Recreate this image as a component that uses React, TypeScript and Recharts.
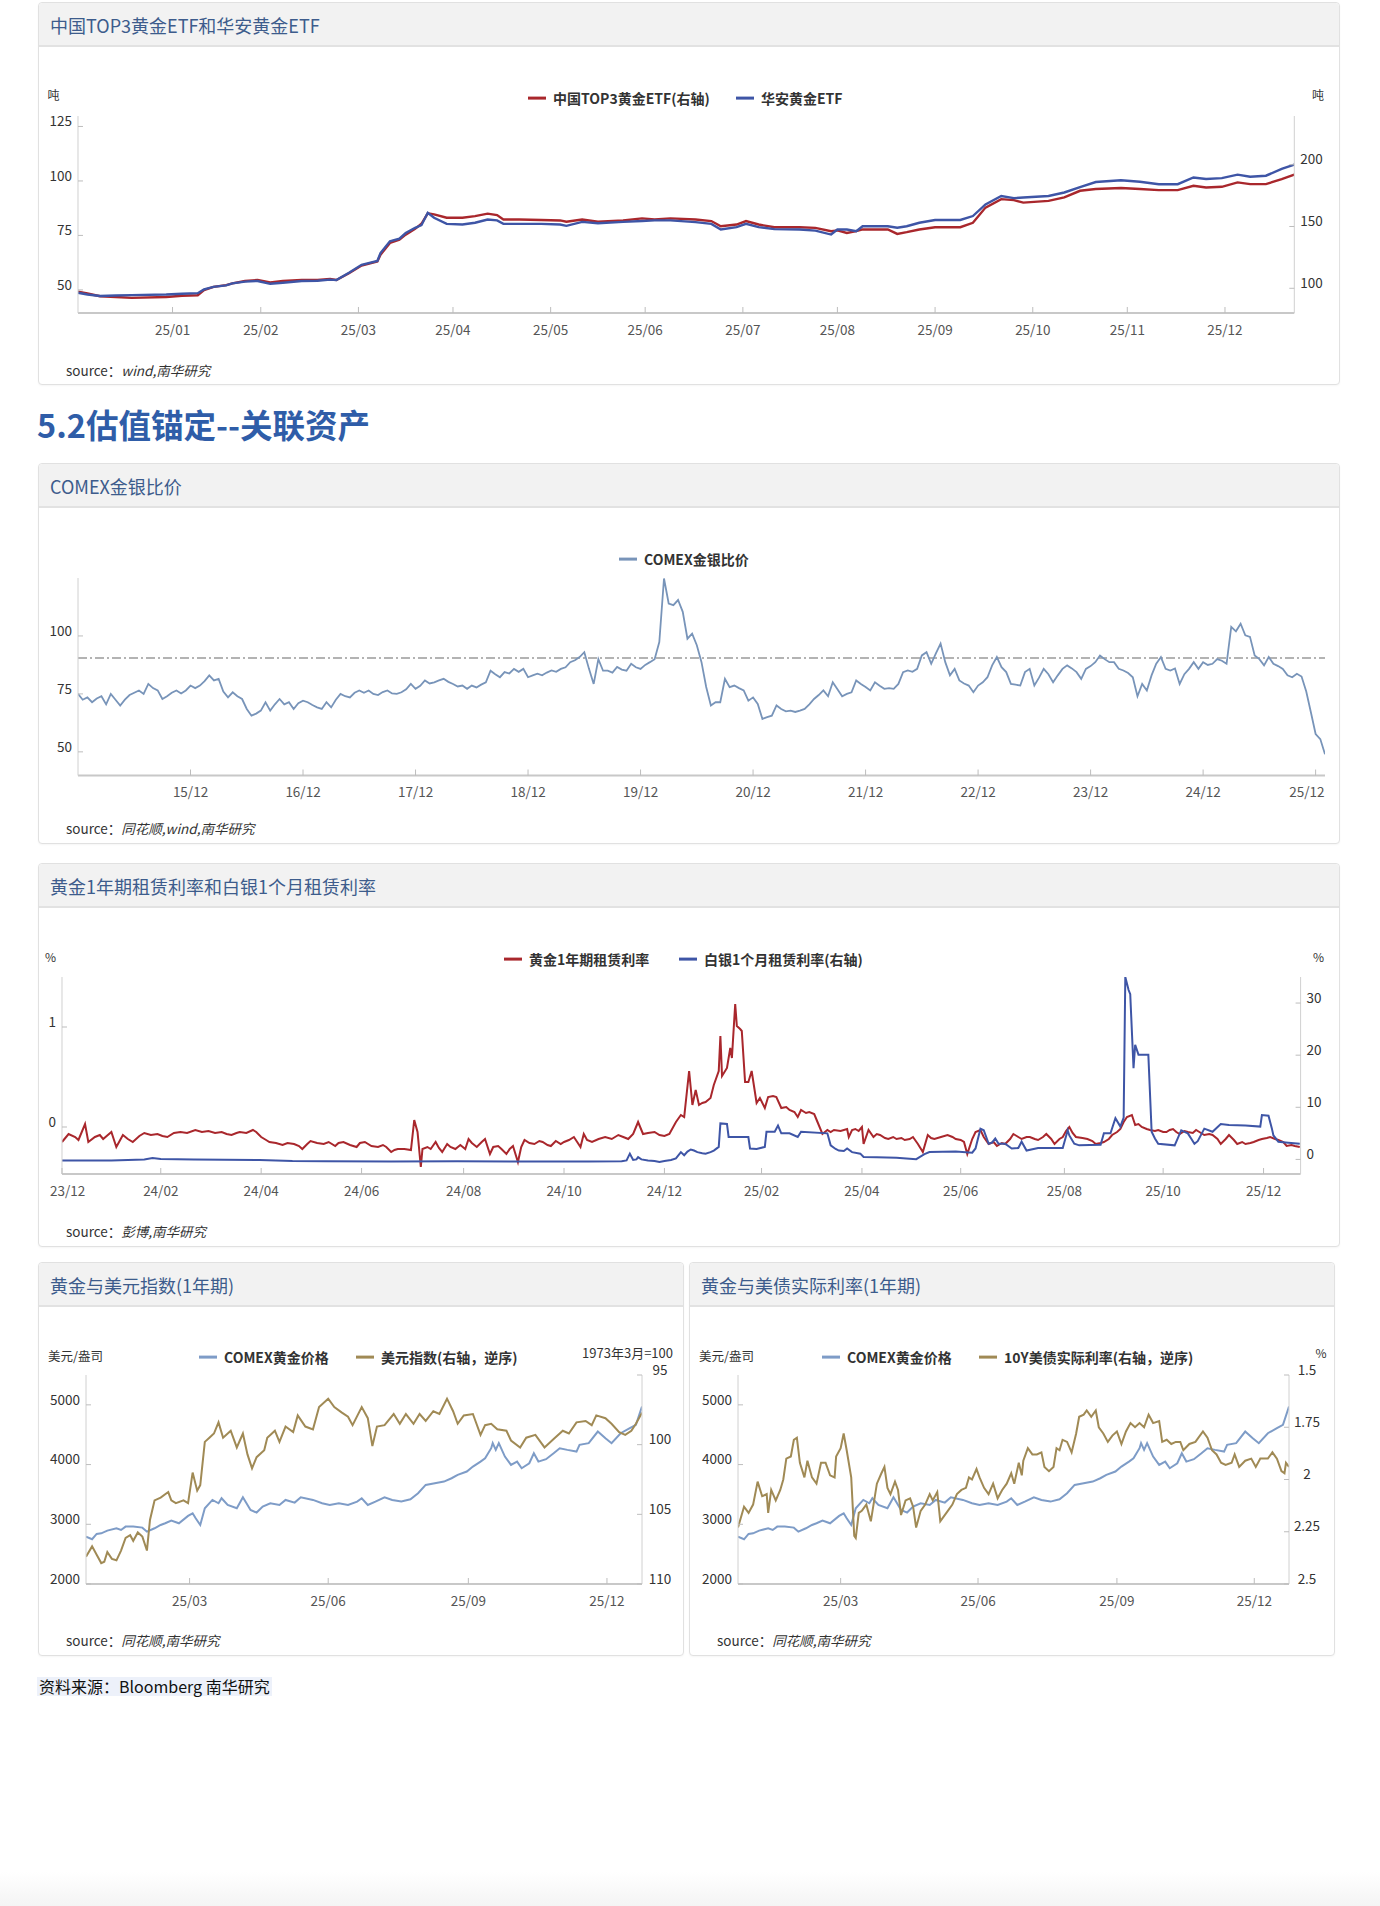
import React from 'react';
import { LineChart, Line, XAxis, YAxis, ReferenceLine } from 'recharts';

const FONT = '"Noto Sans CJK SC","Noto Sans",sans-serif';

// ---------------- Chart 1: ETF holdings (days since 2024-12-02) ----------------
const etfDays = [0, 3, 7, 12, 17, 28, 33, 38, 40, 43, 47, 49, 53, 57, 61, 65, 71, 76, 80, 82, 86, 90, 95, 96, 99, 102, 104, 107, 109, 111, 113, 117, 122, 126, 130, 133, 135, 140, 147, 153, 155, 160, 165, 173, 179, 183, 188, 196, 201, 204, 209, 212, 216, 221, 229, 234, 239, 241, 244, 247, 249, 257, 260, 263, 267, 272, 280, 284, 288, 293, 297, 300, 308, 313, 318, 323, 331, 337, 343, 349, 354, 358, 363, 368, 372, 377, 382, 386];
const top3EtfTons = [97.2, 95.8, 93.6, 93.0, 92.2, 93.0, 93.9, 94.4, 98.5, 101.2, 102.6, 104, 105.9, 106.7, 104.8, 105.9, 106.7, 106.7, 107.5, 106.7, 112.1, 118.4, 121.7, 127.1, 136.7, 139.4, 143.4, 148.1, 152.2, 160.6, 159.8, 157.1, 157.1, 158.4, 160.4, 159.2, 155.7, 155.7, 155.2, 154.9, 153.8, 155.7, 153.8, 154.9, 156.6, 155.7, 156.6, 155.7, 154.4, 150.2, 151.6, 154.4, 151.6, 149.4, 149.4, 148.9, 146.2, 146.8, 144.8, 146.2, 147.6, 147.6, 144, 145.4, 147.6, 149.4, 149.4, 153, 165.3, 172.1, 171.3, 169.3, 170.7, 173.5, 178.9, 180.3, 181.1, 180.3, 179.4, 179.4, 182.9, 181.6, 182.1, 185.7, 184.3, 184.3, 188.4, 192];
const huaanEtfTons = [48.7, 47.9, 47.2, 47.4, 47.6, 47.9, 48.2, 48.5, 50.2, 51.4, 52.1, 53, 53.8, 54.1, 52.8, 53.3, 54.1, 54.2, 54.7, 54.5, 57.9, 61.5, 63.3, 66.9, 72.3, 73.5, 76.1, 78.5, 79.7, 85.4, 83.1, 80.3, 80, 80.8, 82.3, 81.9, 80.3, 80.3, 80.3, 80, 79.4, 81.2, 80.6, 81.2, 81.6, 81.9, 81.9, 81.1, 80.3, 77.7, 78.8, 80.3, 78.8, 77.9, 77.7, 77.2, 75.4, 77.7, 77.7, 76.9, 79.2, 79.2, 78.5, 79.2, 80.8, 82.1, 82.1, 83.9, 89.2, 93.1, 92.1, 92.4, 93.1, 94.7, 97.2, 99.5, 100.3, 99.6, 98.5, 98.5, 101.6, 100.9, 101.3, 102.9, 101.9, 102.4, 105.5, 107.5];
const etfTickDays = [30, 58, 89, 119, 150, 180, 211, 241, 272, 303, 333, 364];
const etfTickLabels = ['25/01', '25/02', '25/03', '25/04', '25/05', '25/06', '25/07', '25/08', '25/09', '25/10', '25/11', '25/12'];
const etfLeftTicks = [50, 75, 100, 125];
const etfRightTicks = [100, 150, 200];

// ---------------- Chart 2: COMEX gold/silver ratio (half-month steps from 2014-12) ----------------
const ratioValues = [
  75, 72.5, 73.5, 71.4, 73, 74, 70.5, 75, 72.5, 70,
  72.5, 74.5, 75.5, 76.5, 75, 79.3, 77.5, 76.5, 72.8, 74,
  75.5, 76.5, 75.2, 76.5, 78.6, 77.5, 78.6, 80.5, 83, 80.8,
  81.5, 76, 73.5, 75.7, 74, 72.8, 68.5, 65.6, 66.5, 67.8,
  71.4, 67.8, 70.5, 72.8, 70.5, 71.4, 68.5, 71, 72.1, 71.4,
  70.2, 69.2, 68.5, 71.4, 69.2, 72.5, 75, 74, 73.5, 75.5,
  76.5, 75.5, 76.5, 75, 74.5, 75.8, 76.5, 75.2, 75, 75.7,
  77, 79.3, 77.2, 78.5, 80.8, 79.5, 80, 80.8, 81.5, 80.2,
  79.3, 78.2, 78.6, 77.2, 78.6, 77.8, 79, 80, 85, 83.5,
  82.2, 84.4, 83.8, 85.8, 84.5, 85.8, 82.2, 83, 83.7, 83,
  84.2, 85.1, 84.5, 85.8, 86.5, 88.7, 89.5, 90.9, 93, 85.8,
  79.3, 90, 85, 85, 84.2, 86.6, 85.5, 85, 88, 86.5,
  85.8, 87.5, 88.7, 90, 97.4, 124.8, 114, 113.3, 115.5, 110.4,
  98.8, 101, 96, 88.7, 78, 70, 71.4, 71.4, 81.5, 77.9,
  78.6, 77.5, 76.5, 72.1, 73.5, 70.7, 64.2, 65, 65.6, 70,
  68.5, 67.5, 67.8, 67.2, 67.8, 68.5, 70.5, 72.8, 74.5, 76.5,
  74, 80, 77, 74, 75, 75.7, 80.8, 79.3, 78, 76.5,
  80, 78.5, 77.2, 77.5, 77.2, 79.3, 84.4, 85.1, 84.5, 85.8,
  91.6, 93, 88, 92.5, 96.7, 88.7, 83, 85.8, 80.8, 79.5,
  78.6, 75.7, 78.6, 80, 82.2, 87.3, 90.9, 86.5, 84.4, 79.3,
  79, 78.6, 84.4, 85.8, 78.6, 82, 85.8, 83.5, 80, 83,
  85.8, 87.3, 86, 84.4, 81.5, 85.8, 87, 88.7, 91.6, 90,
  88.7, 88.7, 85.8, 85.1, 84, 82.2, 74, 79.3, 76.5, 83,
  88, 90.9, 85.8, 85.1, 86, 79.3, 83.5, 85.8, 88.7, 85.8,
  88.7, 87.5, 88, 90, 89.3, 88, 103.9, 102, 105.3, 100.3,
  99.6, 91.6, 90, 87.3, 90.9, 88, 87, 85.8, 83, 82.2,
  83.7, 82.5, 76, 67, 57.7, 55.5, 49,
];
const ratioTickIdx = [24, 48, 72, 96, 120, 144, 168, 192, 216, 240, 264];
const ratioTickLabels = ['15/12', '16/12', '17/12', '18/12', '19/12', '20/12', '21/12', '22/12', '23/12', '24/12', '25/12'];
const ratioLeftTicks = [50, 75, 100];
const ratioRefLevel = 90.5;

// ---------------- Chart 3: lease rates (days since 2023-12-01) ----------------
const goldLease1Y: [number, number][] = [
  [0, -0.15], [4, -0.07], [8, -0.10], [10, -0.13], [14, 0.03], [16, -0.15], [20, -0.10], [23, -0.08], [25, -0.12], [30, -0.05],
  [33, -0.20], [37, -0.08], [40, -0.12], [43, -0.15], [47, -0.09], [50, -0.06], [54, -0.08], [58, -0.07], [61, -0.09], [64, -0.10],
  [68, -0.06], [72, -0.05], [76, -0.06], [81, -0.03], [85, -0.05], [89, -0.04], [93, -0.06], [97, -0.05], [100, -0.07], [103, -0.08],
  [106, -0.06], [108, -0.05], [112, -0.06], [116, -0.03], [118, -0.05], [121, -0.10], [124, -0.13], [126, -0.15], [130, -0.16], [134, -0.18],
  [137, -0.16], [141, -0.17], [144, -0.19], [146, -0.22], [149, -0.17], [151, -0.14], [155, -0.16], [159, -0.17], [162, -0.15], [166, -0.19],
  [168, -0.16], [171, -0.15], [175, -0.18], [179, -0.20], [181, -0.16], [184, -0.15], [188, -0.19], [192, -0.20], [195, -0.18], [197, -0.20],
  [200, -0.25], [202, -0.23], [204, -0.22], [208, -0.22], [212, -0.23], [214, 0.07], [216, -0.05], [218, -0.40], [219, -0.22], [222, -0.20],
  [224, -0.22], [227, -0.15], [229, -0.21], [231, -0.25], [234, -0.17], [236, -0.20], [239, -0.22], [242, -0.18], [245, -0.22], [247, -0.12],
  [249, -0.16], [252, -0.20], [255, -0.15], [257, -0.12], [260, -0.27], [262, -0.20], [265, -0.19], [267, -0.22], [270, -0.27], [272, -0.22],
  [274, -0.19], [277, -0.35], [279, -0.20], [281, -0.13], [284, -0.16], [287, -0.17], [290, -0.14], [292, -0.15], [295, -0.18], [297, -0.19],
  [300, -0.14], [303, -0.17], [305, -0.15], [308, -0.13], [311, -0.10], [313, -0.15], [315, -0.20], [317, -0.07], [319, -0.13], [322, -0.15],
  [326, -0.12], [330, -0.10], [334, -0.12], [338, -0.08], [341, -0.10], [344, -0.12], [347, -0.07], [350, 0.05], [353, -0.07], [356, -0.06],
  [360, -0.05], [363, -0.08], [366, -0.09], [369, -0.07], [373, 0.05], [376, 0.12], [378, 0.10], [381, 0.56], [383, 0.22], [385, 0.37],
  [387, 0.22], [389, 0.24], [391, 0.25], [394, 0.29], [396, 0.42], [399, 0.56], [400, 0.91], [401, 0.51], [404, 0.59], [406, 0.79],
  [407, 0.69], [409, 1.23], [410, 1.01], [412, 0.98], [413, 0.96], [415, 0.45], [417, 0.45], [419, 0.56], [422, 0.24], [424, 0.29],
  [427, 0.19], [429, 0.30], [432, 0.31], [434, 0.30], [437, 0.19], [440, 0.20], [442, 0.17], [445, 0.15], [447, 0.10], [449, 0.17],
  [452, 0.14], [454, 0.15], [457, 0.13], [459, 0.05], [462, -0.07], [465, -0.03], [467, -0.05], [469, -0.03], [473, -0.04], [477, -0.02],
  [478, -0.10], [480, -0.03], [482, -0.02], [484, -0.04], [486, 0.00], [487, -0.17], [490, -0.03], [493, -0.10], [495, -0.07], [497, -0.08],
  [500, -0.11], [502, -0.12], [505, -0.10], [507, -0.12], [510, -0.11], [512, -0.13], [515, -0.12], [517, -0.10], [520, -0.17], [523, -0.25],
  [526, -0.08], [528, -0.11], [530, -0.12], [534, -0.10], [538, -0.08], [541, -0.10], [543, -0.12], [546, -0.13], [548, -0.15], [550, -0.27],
  [553, -0.12], [555, -0.05], [558, -0.03], [560, -0.10], [563, -0.17], [566, -0.15], [568, -0.19], [571, -0.16], [573, -0.17], [576, -0.12],
  [578, -0.07], [581, -0.10], [583, -0.12], [586, -0.10], [588, -0.10], [591, -0.12], [593, -0.13], [596, -0.10], [598, -0.07], [601, -0.12],
  [603, -0.17], [606, -0.12], [608, -0.10], [610, -0.04], [612, 0.00], [614, -0.06], [616, -0.10], [620, -0.11], [623, -0.12], [626, -0.14],
  [628, -0.17], [631, -0.16], [633, -0.15], [636, -0.12], [638, -0.08], [641, -0.05], [643, -0.02], [645, 0.05], [647, 0.10], [650, 0.12],
  [652, 0.02], [654, 0.03], [656, 0.00], [659, -0.02], [661, -0.03], [664, -0.04], [666, -0.03], [669, -0.05], [671, -0.05], [673, -0.03],
  [675, -0.02], [677, -0.05], [679, -0.07], [682, -0.04], [684, -0.05], [687, -0.06], [689, -0.03], [692, -0.06], [694, -0.08], [697, -0.07],
  [699, -0.08], [702, -0.12], [704, -0.17], [707, -0.12], [709, -0.08], [712, -0.13], [714, -0.17], [717, -0.15], [719, -0.17], [722, -0.16],
  [724, -0.15], [727, -0.13], [729, -0.12], [732, -0.11], [734, -0.10], [737, -0.12], [739, -0.13], [742, -0.15], [744, -0.19], [747, -0.18],
  [749, -0.19], [752, -0.20],
];
const silverLease1M: [number, number][] = [
  [0, -0.2], [30, -0.2], [50, 0.0], [55, 0.26], [60, 0.1], [80, 0.0], [120, -0.1], [140, -0.3], [160, -0.35], [200, -0.4],
  [240, -0.35], [280, -0.4], [320, -0.4], [340, -0.35], [343, -0.2], [345, 1.1], [347, -0.1], [349, 0.0], [350, 0.45], [352, 0.0],
  [356, -0.2], [360, -0.3], [363, -0.5], [366, -0.3], [370, -0.1], [373, 0.2], [376, 1.4], [378, 0.8], [380, 1.5], [382, 1.9],
  [384, 1.7], [386, 1.4], [389, 1.2], [391, 1.1], [394, 1.4], [396, 1.7], [399, 2.4], [400, 6.9], [404, 6.8], [405, 4.3],
  [417, 4.3], [418, 2.1], [422, 2.0], [427, 2.4], [428, 5.3], [433, 5.3], [435, 6.5], [437, 5.0], [442, 5.0], [447, 4.3],
  [449, 5.3], [465, 5.0], [467, 2.7], [470, 2.0], [472, 1.7], [475, 1.6], [477, 2.1], [480, 1.4], [485, 1.1], [487, 0.45],
  [495, 0.4], [507, 0.3], [517, 0.1], [519, 0.05], [521, 0.45], [524, 1.0], [527, 1.4], [543, 1.5], [553, 1.3], [555, 2.1],
  [558, 5.9], [560, 5.6], [563, 3.0], [565, 3.2], [567, 4.0], [569, 3.0], [573, 3.0], [577, 2.1], [581, 2.2], [583, 3.4],
  [586, 1.7], [593, 2.2], [608, 2.2], [611, 5.6], [612, 4.6], [615, 3.0], [618, 2.7], [631, 2.8], [633, 5.0], [637, 5.0],
  [640, 7.9], [643, 6.3], [645, 8.0], [646, 35], [648, 32.5], [649, 31.7], [651, 17.5], [652, 22], [654, 20.1], [660, 20.1],
  [662, 5.3], [664, 4.0], [666, 3.0], [676, 2.7], [680, 5.6], [682, 5.3], [684, 5.0], [686, 4.0], [688, 3.0], [690, 3.5],
  [694, 5.9], [699, 5.3], [704, 6.8], [709, 6.6], [719, 6.5], [728, 6.3], [729, 8.5], [733, 8.4], [735, 6.0], [736, 4.6],
  [739, 3.4], [745, 3.2], [752, 3.0],
];
const leaseTickDays = [0, 60, 121, 182, 244, 305, 366, 425, 486, 546, 609, 669, 730];
const leaseTickLabels = ['23/12', '24/02', '24/04', '24/06', '24/08', '24/10', '24/12', '25/02', '25/04', '25/06', '25/08', '25/10', '25/12'];
const leaseLeftTicks = [0, 1];
const leaseRightTicks = [0, 10, 20, 30];

// ---------------- Charts 4 & 5: one-year (days since 2024-12-23) ----------------
const comexGold1Y: [number, number][] = [
  [0, 2793], [4, 2749], [7, 2838], [10, 2849], [14, 2894], [20, 2933], [23, 2905], [26, 2961], [31, 2961], [37, 2944],
  [40, 2877], [45, 2933], [49, 2989], [52, 3017], [56, 3061], [61, 3017], [67, 3140], [70, 3184], [72, 3100], [75, 2989],
  [78, 3268], [83, 3408], [87, 3352], [89, 3436], [93, 3324], [99, 3268], [103, 3453], [108, 3240], [112, 3196], [116, 3296],
  [121, 3352], [127, 3324], [131, 3408], [137, 3363], [141, 3453], [149, 3408], [155, 3352], [160, 3324], [166, 3352], [172, 3324],
  [178, 3380], [181, 3436], [185, 3324], [190, 3380], [196, 3453], [201, 3408], [207, 3380], [213, 3419], [218, 3520], [223, 3659],
  [229, 3687], [235, 3715], [240, 3771], [244, 3827], [250, 3883], [254, 3967], [259, 4050], [262, 4106], [266, 4274], [267, 4358],
  [269, 4246], [271, 4358], [275, 4134], [279, 3995], [283, 4050], [286, 3939], [291, 4022], [294, 4190], [297, 4050], [302, 4090],
  [307, 4190], [311, 4274], [316, 4246], [322, 4218], [324, 4330], [330, 4358], [336, 4553], [341, 4441], [345, 4358], [351, 4525],
  [357, 4609], [361, 4665], [365, 4972],
];
const dollarIndex1Y: [number, number][] = [
  [0, 108.05], [4, 107.3], [7, 107.9], [10, 108.5], [12, 108.4], [14, 107.7], [17, 108.2], [20, 108.3], [23, 107.6], [26, 106.7],
  [29, 106.5], [31, 106.9], [34, 106.3], [37, 106.6], [40, 107.6], [42, 105.4], [45, 104], [49, 103.8], [54, 103.4], [56, 104],
  [59, 104.2], [64, 104], [67, 104.2], [70, 102], [73, 103.3], [75, 102.9], [78, 99.8], [81, 99.5], [84, 99.2], [87, 98.4],
  [90, 99.5], [95, 99], [99, 100.2], [103, 99.2], [106, 100.7], [109, 101.7], [112, 100.9], [117, 100.4], [119, 99.5], [124, 99],
  [127, 99.8], [131, 98.7], [136, 99.1], [139, 97.9], [144, 98.7], [149, 98.9], [153, 97.3], [159, 96.7], [163, 97.3], [168, 97.7],
  [172, 98], [175, 98.6], [181, 97.3], [185, 98.1], [188, 100.1], [191, 98.7], [196, 98.6], [202, 97.8], [206, 98.5], [210, 97.8],
  [215, 98.5], [219, 97.8], [223, 98.3], [228, 97.6], [232, 97.8], [237, 96.7], [241, 97.6], [244, 98.5], [248, 97.9], [254, 97.8],
  [259, 99.3], [262, 98.6], [266, 98.5], [270, 98.9], [276, 99], [279, 99.7], [285, 100.2], [289, 99.5], [295, 99.3], [301, 100.2],
  [307, 99.6], [313, 99], [317, 99.2], [322, 98.4], [328, 98.3], [332, 98.6], [335, 97.9], [341, 98.1], [345, 98.5], [350, 99.1],
  [354, 99.3], [358, 99], [361, 98.5], [365, 97.7],
];
const realRate10Y: [number, number][] = [
  [0, 2.23], [4, 2.13], [7, 2.16], [10, 2.12], [13, 2.01], [16, 2.08], [19, 2.07], [20, 2.16], [22, 2.05], [25, 2.1],
  [28, 2.05], [30, 2.0], [32, 1.9], [35, 1.89], [37, 1.81], [39, 1.8], [41, 1.92], [44, 1.99], [46, 1.91], [49, 1.99],
  [52, 2.02], [55, 1.92], [58, 1.92], [61, 1.98], [64, 1.99], [65, 1.89], [68, 1.85], [70, 1.78], [72, 1.86], [75, 1.99],
  [77, 2.27], [78, 2.28], [80, 2.16], [82, 2.15], [85, 2.12], [88, 2.2], [92, 2.02], [95, 1.97], [97, 1.94], [99, 2.04],
  [101, 2.07], [104, 2.01], [106, 2.05], [108, 2.17], [111, 2.1], [114, 2.09], [116, 2.13], [118, 2.23], [121, 2.15], [124, 2.12],
  [127, 2.07], [129, 2.1], [132, 2.06], [134, 2.2], [136, 2.18], [139, 2.15], [142, 2.12], [145, 2.07], [148, 2.05], [151, 2.04],
  [153, 1.99], [155, 2.0], [158, 1.95], [160, 1.99], [163, 2.04], [166, 2.07], [169, 2.02], [172, 2.09], [175, 2.05], [178, 2.02],
  [181, 1.97], [183, 2.02], [186, 1.92], [188, 1.98], [189, 1.91], [192, 1.85], [195, 1.88], [198, 1.88], [201, 1.87], [203, 1.94],
  [206, 1.96], [209, 1.94], [211, 1.85], [213, 1.86], [215, 1.81], [218, 1.82], [221, 1.87], [224, 1.78], [226, 1.7], [229, 1.69],
  [231, 1.67], [234, 1.7], [237, 1.67], [239, 1.75], [242, 1.78], [245, 1.82], [248, 1.79], [251, 1.77], [254, 1.83], [257, 1.77],
  [260, 1.73], [263, 1.75], [266, 1.73], [269, 1.75], [272, 1.69], [275, 1.73], [279, 1.72], [281, 1.82], [284, 1.81], [287, 1.83],
  [290, 1.82], [293, 1.82], [295, 1.86], [299, 1.83], [303, 1.82], [308, 1.77], [311, 1.8], [314, 1.86], [317, 1.88], [320, 1.92],
  [323, 1.93], [327, 1.92], [329, 1.88], [332, 1.94], [336, 1.91], [340, 1.9], [343, 1.94], [346, 1.9], [351, 1.9], [354, 1.87],
  [357, 1.9], [360, 1.96], [362, 1.97], [363, 1.92], [365, 1.94],
];
const yearTickDays = [68, 159, 251, 342];
const yearTickLabels = ['25/03', '25/06', '25/09', '25/12'];
const goldLeftTicks = [2000, 3000, 4000, 5000];
const dollarTicks = [95, 100, 105, 110];
const realRateTicks = [1.5, 1.75, 2, 2.25, 2.5];

// ---------------- helpers ----------------
function merge(series: Record<string, [number, number][]>) {
  const map = new Map<number, any>();
  Object.entries(series).forEach(([key, pts]) => {
    pts.forEach(([x, v]) => {
      const row = map.get(x) || { x };
      row[key] = v;
      map.set(x, row);
    });
  });
  return Array.from(map.values()).sort((a, b) => a.x - b.x);
}

const etfData = etfDays.map((d, i) => ({ x: d, top3: top3EtfTons[i], huaan: huaanEtfTons[i] }));
const ratioData = ratioValues.map((v, i) => ({ x: i, ratio: v }));
const leaseData = merge({ gold: goldLease1Y, silver: silverLease1M });
const dollarData = merge({ gold: comexGold1Y, dxy: dollarIndex1Y });
const rateData = merge({ gold: comexGold1Y, rate: realRate10Y });

const LW = 50, RW = 50, XH = 40, MT = 20;
type Rect = { x0: number; x1: number; y0: number; y1: number };
function frame(r: Rect) {
  return {
    style: { position: 'absolute' as const, left: r.x0 - LW, top: r.y0 - MT },
    width: r.x1 - r.x0 + LW + RW,
    height: r.y1 - r.y0 + MT + XH,
  };
}

const tickText = { fontFamily: FONT, fontSize: 13.5, fill: '#333' };
const TL = '#bdbdbd';
const leftTick = (p: any) => (
  <g>
    <line x1={p.x} y1={p.y} x2={p.x + 5} y2={p.y} stroke={TL} />
    <text x={p.x - 6} y={p.y - 5} dy="0.35em" textAnchor="end" {...tickText}>{p.payload.value}</text>
  </g>
);
const rightTick = (anchor: 'start' | 'middle') => (p: any) => (
  <g>
    <line x1={p.x} y1={p.y} x2={p.x - 5} y2={p.y} stroke={TL} />
    <text x={anchor === 'start' ? p.x + 6 : p.x + 18} y={p.y - 5} dy="0.35em" textAnchor={anchor} {...tickText}>{p.payload.value}</text>
  </g>
);
// firstShift / lastShift keep edge labels inside the plot, as in the reference
const bottomTick = (ticks: number[], labels: string[], firstStart = false, lastEnd = false) => (p: any) => {
  const i = ticks.indexOf(p.payload.value);
  let anchor: 'middle' | 'start' | 'end' = 'middle';
  let tx = p.x;
  if (firstStart && i === 0) { anchor = 'start'; tx = p.x - 12; }
  if (lastEnd && i === ticks.length - 1) { anchor = 'end'; tx = p.x + 9; }
  return (
    <g>
      <line x1={p.x} y1={p.y} x2={p.x} y2={p.y - 6} stroke={TL} />
      <text x={tx} y={p.y + 17} dy="0.35em" textAnchor={anchor} {...tickText} fill="#555">{labels[i]}</text>
    </g>
  );
};
const xLine = { stroke: '#c8c8c8', strokeWidth: 2 };
const yLine = { stroke: '#d0d0d0', strokeWidth: 1 };

function Panel({ left, top, width, height, title }: any) {
  return (
    <div style={{ position: 'absolute', left, top, width, height, boxSizing: 'border-box', border: '1px solid #e1e1e1', borderRadius: 4, background: '#fff', boxShadow: '0 1px 2px rgba(0,0,0,0.04)' }}>
      <div style={{ height: 44, boxSizing: 'border-box', paddingTop: 2, background: '#f2f2f2', borderBottom: '2px solid #e2e2e2', borderRadius: '4px 4px 0 0', display: 'flex', alignItems: 'center', paddingLeft: 11, fontFamily: FONT, fontSize: 18, color: '#3d5c8c', whiteSpace: 'nowrap' }}>{title}</div>
    </div>
  );
}

function Txt({ x, y, children, size = 13, weight = 400, color = '#333', align = 'left', style = {} }: any) {
  const tx = align === 'center' ? '-50%' : align === 'right' ? '-100%' : '0';
  return (
    <div style={{ position: 'absolute', left: x, top: y, transform: `translate(${tx}, -50%)`, fontFamily: FONT, fontSize: size, fontWeight: weight, color, whiteSpace: 'nowrap', lineHeight: 1.2, ...style }}>{children}</div>
  );
}

function LegendItem({ x, y, color, label, size = 14 }: any) {
  return (
    <div style={{ position: 'absolute', left: x, top: y, transform: 'translateY(-50%)', display: 'flex', alignItems: 'center', fontFamily: FONT, fontSize: size, fontWeight: 700, color: '#333', whiteSpace: 'nowrap', lineHeight: 1.2 }}>
      <span style={{ display: 'inline-block', width: 18, height: 3, background: color, marginRight: 7 }} />
      {label}
    </div>
  );
}

function Source({ x, y, text }: any) {
  return (
    <Txt x={x} y={y} size={13.5} color="#333">source：<i>{text}</i></Txt>
  );
}

const RED = '#a9272c';
const BLUE = '#3e55a6';
const STEEL = '#7894b9';
const GOLDLINE = '#7e9cc7';
const BROWN = '#a08a55';

export default function App() {
  const f1 = frame({ x0: 77.7, x1: 1294, y0: 116, y1: 313 });
  const f2 = frame({ x0: 78, x1: 1325, y0: 577.5, y1: 775 });
  const f3 = frame({ x0: 62.4, x1: 1301, y0: 976.8, y1: 1173.8 });
  const f4 = frame({ x0: 86, x1: 642, y0: 1375, y1: 1584 });
  const f5 = frame({ x0: 738, x1: 1289, y0: 1375, y1: 1584 });
  const margin = { top: MT, right: 0, bottom: 0, left: 0 };

  return (
    <div style={{ position: 'absolute', left: 0, top: 0, width: 1380, height: 1906, background: '#fff', overflow: 'hidden' }}>
      {/* Panel 1 */}
      <Panel left={38} top={2} width={1302} height={383} title="中国TOP3黄金ETF和华安黄金ETF" />
      <Txt x={53.5} y={95} size={12} align="center">吨</Txt>
      <Txt x={1318} y={95} size={12} align="center">吨</Txt>
      <LegendItem x={528} y={98} color={RED} label="中国TOP3黄金ETF(右轴)" />
      <LegendItem x={736} y={98} color={BLUE} label="华安黄金ETF" />
      <div style={f1.style}>
        <LineChart width={f1.width} height={f1.height} data={etfData} margin={margin}>
          <XAxis dataKey="x" type="number" domain={[0, 386]} ticks={etfTickDays} interval={0} height={XH} tickSize={0} tickMargin={0} tickLine={false} axisLine={xLine} tick={bottomTick(etfTickDays, etfTickLabels)} allowDataOverflow />
          <YAxis yAxisId="left" orientation="left" width={LW} domain={[39.4, 129.8]} ticks={etfLeftTicks} interval={0} tickSize={0} tickMargin={0} tickLine={false} axisLine={yLine} tick={leftTick} allowDataOverflow />
          <YAxis yAxisId="right" orientation="right" width={RW} domain={[80, 239.4]} ticks={etfRightTicks} interval={0} tickSize={0} tickMargin={0} tickLine={false} axisLine={yLine} tick={rightTick('start')} allowDataOverflow />
          <Line yAxisId="right" dataKey="top3" stroke={RED} strokeWidth={2.4} dot={false} isAnimationActive={false} />
          <Line yAxisId="left" dataKey="huaan" stroke={BLUE} strokeWidth={2.4} dot={false} isAnimationActive={false} />
        </LineChart>
      </div>
      <Source x={66} y={370} text="wind,南华研究" />

      {/* Section heading */}
      <Txt x={37} y={423} size={32.5} weight={700} color="#2f5da8">5.2估值锚定--关联资产</Txt>

      {/* Panel 2 */}
      <Panel left={38} top={463} width={1302} height={381} title="COMEX金银比价" />
      <LegendItem x={619} y={559} color={STEEL} label="COMEX金银比价" />
      <div style={f2.style}>
        <LineChart width={f2.width} height={f2.height} data={ratioData} margin={{ ...margin, right: RW }}>
          <XAxis dataKey="x" type="number" domain={[0, 266]} ticks={ratioTickIdx} interval={0} height={XH} tickSize={0} tickMargin={0} tickLine={false} axisLine={xLine} tick={bottomTick(ratioTickIdx, ratioTickLabels, false, true)} allowDataOverflow />
          <YAxis orientation="left" width={LW} domain={[39.8, 125]} ticks={ratioLeftTicks} interval={0} tickSize={0} tickMargin={0} tickLine={false} axisLine={yLine} tick={leftTick} allowDataOverflow />
          <ReferenceLine y={ratioRefLevel} stroke="#9a9a9a" strokeWidth={1.6} strokeDasharray="9 3 2 3" />
          <Line dataKey="ratio" stroke={STEEL} strokeWidth={1.8} dot={false} isAnimationActive={false} />
        </LineChart>
      </div>
      <Source x={66} y={828} text="同花顺,wind,南华研究" />

      {/* Panel 3 */}
      <Panel left={38} top={863} width={1302} height={384} title="黄金1年期租赁利率和白银1个月租赁利率" />
      <Txt x={50.5} y={957} size={12} align="center">%</Txt>
      <Txt x={1318.5} y={957} size={12} align="center">%</Txt>
      <LegendItem x={504} y={959} color={RED} label="黄金1年期租赁利率" />
      <LegendItem x={679} y={959} color={BLUE} label="白银1个月租赁利率(右轴)" />
      <div style={f3.style}>
        <LineChart width={f3.width} height={f3.height} data={leaseData} margin={margin}>
          <XAxis dataKey="x" type="number" domain={[0, 752.5]} ticks={leaseTickDays} interval={0} height={XH} tickSize={0} tickMargin={0} tickLine={false} axisLine={xLine} tick={bottomTick(leaseTickDays, leaseTickLabels, true, false)} allowDataOverflow />
          <YAxis yAxisId="left" orientation="left" width={LW} domain={[-0.47, 1.5]} ticks={leaseLeftTicks} interval={0} tickSize={0} tickMargin={0} tickLine={false} axisLine={yLine} tick={leftTick} allowDataOverflow />
          <YAxis yAxisId="right" orientation="right" width={RW} domain={[-2.8, 35]} ticks={leaseRightTicks} interval={0} tickSize={0} tickMargin={0} tickLine={false} axisLine={yLine} tick={rightTick('start')} allowDataOverflow />
          <Line yAxisId="left" dataKey="gold" stroke={RED} strokeWidth={2} dot={false} connectNulls isAnimationActive={false} />
          <Line yAxisId="right" dataKey="silver" stroke={BLUE} strokeWidth={2} dot={false} connectNulls isAnimationActive={false} />
        </LineChart>
      </div>
      <Source x={66} y={1231} text="彭博,南华研究" />

      {/* Panel 4 */}
      <Panel left={38} top={1262} width={646} height={394} title="黄金与美元指数(1年期)" />
      <Txt x={48} y={1355} size={12.5}>美元/盎司</Txt>
      <Txt x={673} y={1352} size={13} align="right" style={{ lineHeight: 1 }}>1973年3月=100</Txt>
      <LegendItem x={199} y={1357} color={GOLDLINE} label="COMEX黄金价格" />
      <LegendItem x={356} y={1357} color={BROWN} label="美元指数(右轴，逆序)" />
      <div style={f4.style}>
        <LineChart width={f4.width} height={f4.height} data={dollarData} margin={margin}>
          <XAxis dataKey="x" type="number" domain={[0, 365]} ticks={yearTickDays} interval={0} height={XH} tickSize={0} tickMargin={0} tickLine={false} axisLine={xLine} tick={bottomTick(yearTickDays, yearTickLabels)} allowDataOverflow />
          <YAxis yAxisId="left" orientation="left" width={LW} domain={[2000, 5500]} ticks={goldLeftTicks} interval={0} tickSize={0} tickMargin={0} tickLine={false} axisLine={yLine} tick={leftTick} allowDataOverflow />
          <YAxis yAxisId="right" orientation="right" width={RW} domain={[95, 110]} reversed ticks={dollarTicks} interval={0} tickSize={0} tickMargin={0} tickLine={false} axisLine={yLine} tick={rightTick('middle')} allowDataOverflow />
          <Line yAxisId="left" dataKey="gold" stroke={GOLDLINE} strokeWidth={2} dot={false} connectNulls isAnimationActive={false} />
          <Line yAxisId="right" dataKey="dxy" stroke={BROWN} strokeWidth={2} dot={false} connectNulls isAnimationActive={false} />
        </LineChart>
      </div>
      <Source x={66} y={1640} text="同花顺,南华研究" />

      {/* Panel 5 */}
      <Panel left={689} top={1262} width={646} height={394} title="黄金与美债实际利率(1年期)" />
      <Txt x={699} y={1355} size={12.5}>美元/盎司</Txt>
      <Txt x={1321} y={1353} size={12} align="center" style={{ lineHeight: 1 }}>%</Txt>
      <LegendItem x={822} y={1357} color={GOLDLINE} label="COMEX黄金价格" />
      <LegendItem x={979} y={1357} color={BROWN} label="10Y美债实际利率(右轴，逆序)" />
      <div style={f5.style}>
        <LineChart width={f5.width} height={f5.height} data={rateData} margin={margin}>
          <XAxis dataKey="x" type="number" domain={[0, 365]} ticks={yearTickDays} interval={0} height={XH} tickSize={0} tickMargin={0} tickLine={false} axisLine={xLine} tick={bottomTick(yearTickDays, yearTickLabels)} allowDataOverflow />
          <YAxis yAxisId="left" orientation="left" width={LW} domain={[2000, 5500]} ticks={goldLeftTicks} interval={0} tickSize={0} tickMargin={0} tickLine={false} axisLine={yLine} tick={leftTick} allowDataOverflow />
          <YAxis yAxisId="right" orientation="right" width={RW} domain={[1.5, 2.5]} reversed ticks={realRateTicks} interval={0} tickSize={0} tickMargin={0} tickLine={false} axisLine={yLine} tick={rightTick('middle')} allowDataOverflow />
          <Line yAxisId="left" dataKey="gold" stroke={GOLDLINE} strokeWidth={2} dot={false} connectNulls isAnimationActive={false} />
          <Line yAxisId="right" dataKey="rate" stroke={BROWN} strokeWidth={2} dot={false} connectNulls isAnimationActive={false} />
        </LineChart>
      </div>
      <Source x={717} y={1640} text="同花顺,南华研究" />

      {/* footer note */}
      <div style={{ position: 'absolute', left: 37, top: 1677, height: 19, padding: '0 2px', background: '#edf1fa', fontFamily: FONT, fontSize: 16, color: '#111', lineHeight: '19px', whiteSpace: 'nowrap' }}>资料来源：Bloomberg 南华研究</div>
      <div style={{ position: 'absolute', left: 0, top: 1872, width: 1380, height: 34, background: 'linear-gradient(#ffffff, #f4f4f4)' }} />
    </div>
  );
}
